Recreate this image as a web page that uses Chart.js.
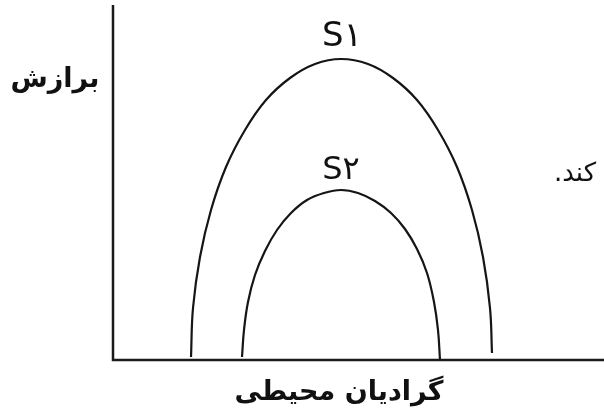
<!DOCTYPE html>
<html>
<head>
<meta charset="utf-8">
<script src="https://cdn.jsdelivr.net/npm/chart.js@4.4.0/dist/chart.umd.min.js"></script>
<style>
html,body{margin:0;padding:0;background:#fff;}
#wrap{width:604px;height:414px;position:relative;}
</style>
</head>
<body>
<div id="wrap"><canvas id="c" width="604" height="414"></canvas></div>
<script>
// Curve S1 (environmental gradient position, fitness)
const s1X = [78, 80, 87, 98, 113, 132, 153, 177, 202, 228, 255, 280, 304, 325, 344, 359, 370, 377, 379];
const s1Y = [3, 52, 103, 150, 193, 230, 260, 282, 296, 301, 296, 282, 260, 230, 193, 150, 103, 52, 7];
// Curve S2
const s2X = [129, 131, 135, 142, 152, 164, 178, 194, 211, 228, 245, 262, 278, 292, 304, 314, 321, 325, 327];
const s2Y = [3, 30, 58, 85, 109, 130, 147, 160, 167, 170, 167, 159, 147, 131, 111, 87, 58, 30, 0];
// Text
const seriesLabels = ["S\u06F1", "S\u06F2"];
const yAxisLabel = "برازش";
const xAxisLabel = "گرادیان محیطی";
const sideText = "کند.";
// Label anchor positions in data units
const seriesLabelX = [229, 228];
const seriesLabelY = [323, 189];

function pts(xs, ys){ return xs.map((x,i)=>({x:x, y:ys[i]})); }

const textPlugin = {
  id: 'texts',
  afterDraw(chart){
    const ctx = chart.ctx;
    const xs = chart.scales.x, ys = chart.scales.y;
    const a = chart.chartArea;
    ctx.save();
    // axes
    ctx.strokeStyle = '#1a1a1a';
    ctx.lineWidth = 2.5;
    ctx.beginPath();
    ctx.moveTo(a.left, a.top - 3);
    ctx.lineTo(a.left, a.bottom);
    ctx.lineTo(a.right, a.bottom);
    ctx.stroke();
    ctx.fillStyle = '#111';
    ctx.textAlign = 'center';
    ctx.textBaseline = 'middle';
    // series labels
    ctx.font = '34px "DejaVu Sans"';
    ctx.fillText(seriesLabels[0], xs.getPixelForValue(seriesLabelX[0]), ys.getPixelForValue(seriesLabelY[0]));
    ctx.font = '32px "DejaVu Sans"';
    ctx.fillText(seriesLabels[1], xs.getPixelForValue(seriesLabelX[1]), ys.getPixelForValue(seriesLabelY[1]));
    // axis labels
    ctx.direction = 'rtl';
    ctx.font = 'bold 27px "DejaVu Sans"';
    ctx.fillText(yAxisLabel, 55, 80);
    ctx.fillText(xAxisLabel, 339, 393);
    ctx.font = '26px "DejaVu Sans"';
    ctx.fillText(sideText, 575, 174);
    ctx.restore();
  }
};

new Chart(document.getElementById('c'), {
  type: 'scatter',
  data: {
    datasets: [
      { label: seriesLabels[0], data: pts(s1X, s1Y), showLine: true, tension: 0.4,
        borderColor: '#151515', borderWidth: 2.2, pointRadius: 0, fill: false },
      { label: seriesLabels[1], data: pts(s2X, s2Y), showLine: true, tension: 0.4,
        borderColor: '#151515', borderWidth: 2.2, pointRadius: 0, fill: false }
    ]
  },
  options: {
    responsive: false,
    animation: false,
    devicePixelRatio: 1,
    layout: { padding: { left: 113, right: 0, top: 8, bottom: 54 } },
    plugins: { legend: { display: false }, tooltip: { enabled: false } },
    scales: {
      x: { type: 'linear', min: 0, max: 491, display: false },
      y: { type: 'linear', min: 0, max: 352, display: false }
    }
  },
  plugins: [textPlugin]
});
</script>
</body>
</html>
